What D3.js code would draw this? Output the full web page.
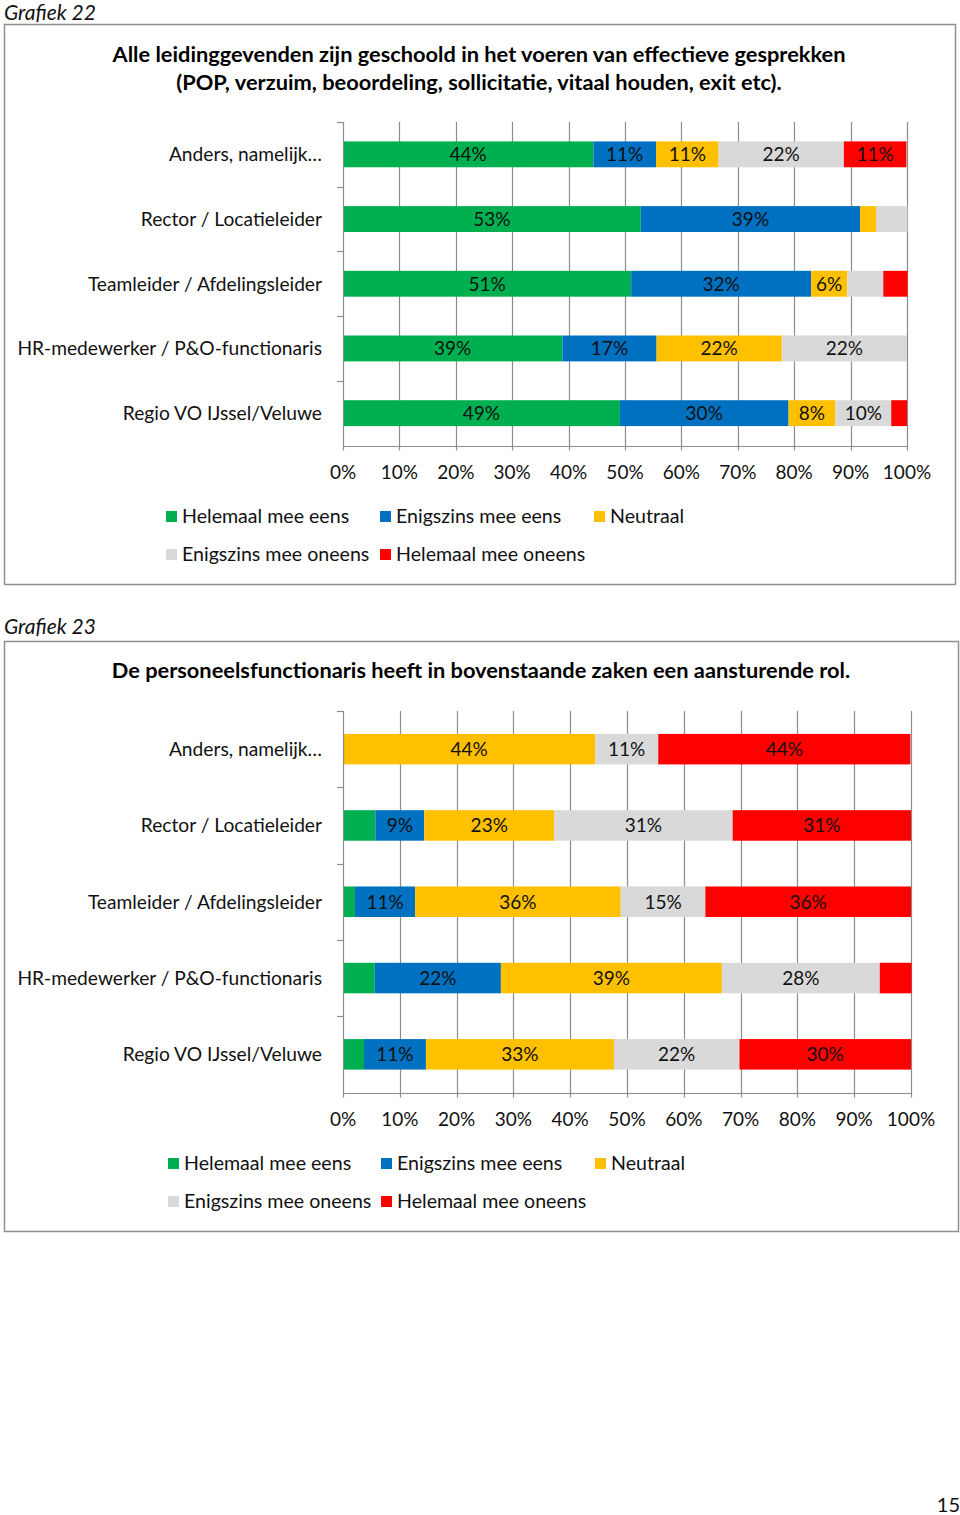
<!DOCTYPE html>
<html><head><meta charset="utf-8">
<script src="https://cdn.jsdelivr.net/npm/d3@7"></script>
<style>
html,body{margin:0;padding:0;background:#fff;}
svg{display:block;font-family:Lato,"Noto Sans",sans-serif;}
</style></head><body>
<svg id="page" width="960" height="1515"></svg>
<script>
// ---------- data ----------
const categories = ["Anders, namelijk\u2026","Rector / Locatieleider","Teamleider / Afdelingsleider","HR-medewerker / P&O-functionaris","Regio VO IJssel/Veluwe"];
const seriesNames = ["Helemaal mee eens","Enigszins mee eens","Neutraal","Enigszins mee oneens","Helemaal mee oneens"];
const xTicks = [0,0.1,0.2,0.3,0.4,0.5,0.6,0.7,0.8,0.9,1];

// Grafiek 22 (per series, rows top→bottom)
const g22Helemaal   = [0.444,0.528,0.511,0.389,0.491];
const g22Enigszins  = [0.111,0.389,0.319,0.167,0.299];
const g22Neutraal   = [0.111,0.028,0.064,0.222,0.083];
const g22EOneens    = [0.222,0.056,0.064,0.222,0.099];
const g22HOneens    = [0.111,0.000,0.043,0.000,0.028];
const g22ShowLabel  = [[1,1,1,1,1],[1,1,0,0,0],[1,1,1,0,0],[1,1,1,1,0],[1,1,1,1,0]];
const g22Title = ["Alle leidinggevenden zijn geschoold in het voeren van effectieve gesprekken","(POP, verzuim, beoordeling, sollicitatie, vitaal houden, exit  etc)."];

// Grafiek 23
const g23Helemaal   = [0.000,0.057,0.021,0.056,0.037];
const g23Enigszins  = [0.000,0.086,0.106,0.222,0.109];
const g23Neutraal   = [0.444,0.229,0.362,0.389,0.331];
const g23EOneens    = [0.111,0.314,0.149,0.278,0.221];
const g23HOneens    = [0.444,0.314,0.362,0.056,0.302];
const g23ShowLabel  = [[0,0,1,1,1],[0,1,1,1,1],[0,1,1,1,1],[0,1,1,1,0],[0,1,1,1,1]];
const g23Title = ["De personeelsfunctionaris heeft in bovenstaande zaken een aansturende rol."];

// ---------- styles ----------
const colors = ["#00B050","#0070C0","#FFC000","#D9D9D9","#FF0000"];
const gridColor = "#8c8c8c";
const svg = d3.select("#page");
const fmt = d3.format(".0%");

function drawChart(o){
  const g = svg.append("g");
  // frame
  g.append("rect").attr("x",o.box[0]+0.5).attr("y",o.box[1]+0.5)
    .attr("width",o.box[2]-o.box[0]).attr("height",o.box[3]-o.box[1])
    .attr("fill","none").attr("stroke","#8f8f8f").attr("stroke-width",1.5);
  // caption
  g.append("text").attr("x",4).attr("y",o.capY).attr("font-style","italic")
    .attr("font-size",21).attr("fill","#111").text(o.caption);
  // title
  o.title.forEach((t,i)=>{
    g.append("text").attr("x",o.titleX).attr("y",o.titleY+i*28).attr("text-anchor","middle")
      .attr("font-weight","bold").attr("font-size",21.8).attr("fill","#000").text(t);
  });
  const x = d3.scaleLinear().domain([0,1]).range([o.x0,o.x1]);
  const y = d3.scaleBand().domain(categories).range([o.y0,o.y1]).paddingInner(0.6).paddingOuter(0.3);
  const band = (o.y1-o.y0)/categories.length;
  // gridlines
  g.append("g").selectAll("line").data(xTicks.slice(1)).join("line")
    .attr("x1",d=>Math.round(x(d))+0.5).attr("x2",d=>Math.round(x(d))+0.5)
    .attr("y1",o.y0).attr("y2",o.y1+5).attr("stroke",gridColor).attr("stroke-width",1.2);
  // stacked bars
  const rows = categories.map((c,i)=>{const r={cat:c}; o.series.forEach((s,j)=>r[seriesNames[j]]=s[i]); return r;});
  const stack = d3.stack().keys(seriesNames)(rows);
  stack.forEach((layer,j)=>{
    const lg = g.append("g");
    lg.selectAll("rect").data(layer).join("rect")
      .attr("x",d=>x(d[0])).attr("width",d=>Math.max(0,x(d[1])-x(d[0])))
      .attr("y",d=>y(d.data.cat)).attr("height",y.bandwidth()).attr("fill",colors[j]);
    lg.selectAll("text").data(layer.filter((d,i)=>o.show[i][j])).join("text")
      .attr("x",d=>(x(d[0])+x(d[1]))/2).attr("y",d=>y(d.data.cat)+y.bandwidth()/2+7)
      .attr("text-anchor","middle").attr("font-size",19).attr("fill","#111")
      .text(d=>fmt(d[1]-d[0]));
  });
  // y axis line & ticks
  g.append("line").attr("x1",o.x0+0.5).attr("x2",o.x0+0.5).attr("y1",o.y0).attr("y2",o.y1+5)
    .attr("stroke",gridColor).attr("stroke-width",1.2);
  g.append("g").selectAll("line").data(d3.range(categories.length)).join("line")
    .attr("x1",o.x0-6).attr("x2",o.x0).attr("y1",i=>Math.round(o.y0+i*band)+0.5).attr("y2",i=>Math.round(o.y0+i*band)+0.5)
    .attr("stroke",gridColor).attr("stroke-width",1.2);
  // x axis line
  g.append("line").attr("x1",o.x0).attr("x2",o.x1+1).attr("y1",Math.round(o.y1)+0.5).attr("y2",Math.round(o.y1)+0.5)
    .attr("stroke",gridColor).attr("stroke-width",1.2);
  // category labels
  g.append("g").selectAll("text").data(categories).join("text")
    .attr("x",o.x0-21).attr("y",d=>y(d)+y.bandwidth()/2+7).attr("text-anchor","end")
    .attr("font-size",19.2).attr("fill","#111").text(d=>d);
  // tick labels
  g.append("g").selectAll("text").data(xTicks).join("text")
    .attr("x",d=>x(d)).attr("y",o.tickY).attr("text-anchor","middle")
    .attr("font-size",19).attr("fill","#111").text(d=>fmt(d));
  // legend
  const leg = g.append("g");
  seriesNames.forEach((n,j)=>{
    const p = o.legendPos[j];
    leg.append("rect").attr("x",p[0]).attr("y",p[1]-12).attr("width",11).attr("height",11).attr("fill",colors[j]);
    leg.append("text").attr("x",p[0]+16).attr("y",p[1]).attr("font-size",19.6).attr("fill","#111").text(n);
  });
}

drawChart({
  box:[4,24,955,584], caption:"Grafiek 22", capY:20,
  title:g22Title, titleX:479, titleY:62,
  x0:343, x1:907, y0:122, y1:445.5, tickY:479,
  series:[g22Helemaal,g22Enigszins,g22Neutraal,g22EOneens,g22HOneens], show:g22ShowLabel,
  legendPos:[[166,523],[380,523],[594,523],[166,561],[380,561]]
});
drawChart({
  box:[4,641,958,1231], caption:"Grafiek 23", capY:634,
  title:g23Title, titleX:481, titleY:678,
  x0:343, x1:911, y0:711, y1:1092.5, tickY:1126,
  series:[g23Helemaal,g23Enigszins,g23Neutraal,g23EOneens,g23HOneens], show:g23ShowLabel,
  legendPos:[[168,1170],[381,1170],[595,1170],[168,1208],[381,1208]]
});
svg.append("text").attr("x",960).attr("y",1512).attr("text-anchor","end").attr("font-size",20).attr("fill","#111").text("15");
</script></body></html>
